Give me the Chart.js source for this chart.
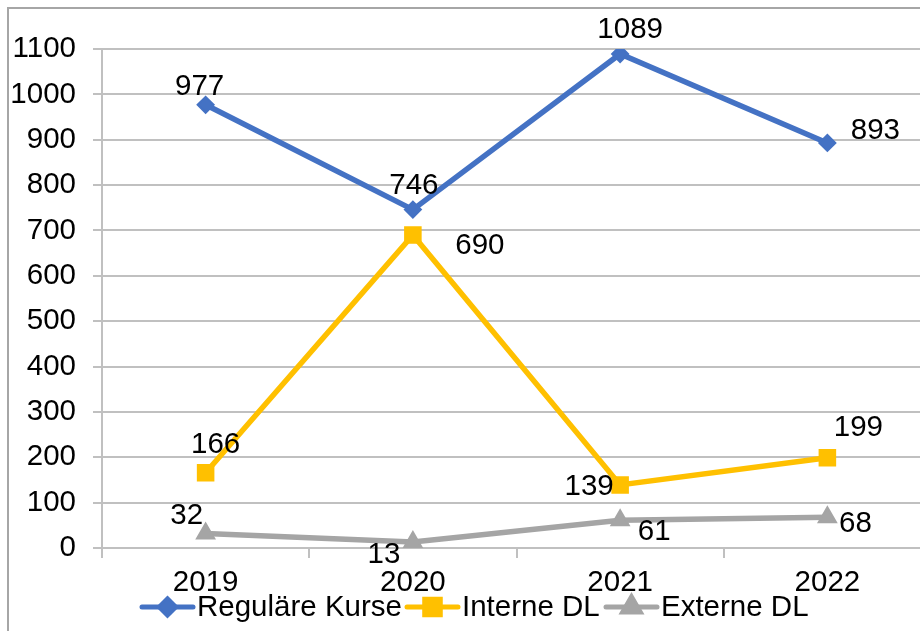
<!DOCTYPE html>
<html>
<head>
<meta charset="utf-8">
<script src="https://cdn.jsdelivr.net/npm/chart.js@4/dist/chart.umd.min.js"></script>
<style>
    html, body { margin: 0; padding: 0; background: #fff; overflow: hidden; width: 920px; height: 631px; }
    #frame { position: absolute; left: 7px; top: 7px; width: 1000px; height: 1000px;
             border-left: 2px solid #a6a6a6; border-top: 2px solid #a6a6a6; }
    #chart { position: absolute; left: 0; top: 0; }
</style>
</head>
<body>
<div id="frame"></div>
<canvas id="chart" width="944" height="631"></canvas>
<script>
// --- Data ---
const years = ['2019', '2020', '2021', '2022'];
const regulaereKurse = [977, 746, 1089, 893];
const interneDL = [166, 690, 139, 199];
const externeDL = [32, 13, 61, 68];
const seriesNames = ['Reguläre Kurse', 'Interne DL', 'Externe DL'];

// --- Styles ---
const FONT = "'Liberation Sans', Arial, sans-serif";
const FONT_SIZE = 29.5;
const GRID = '#c0c0c0';
const colors = ['#4472C4', '#FFC000', '#A5A5A5'];
const markers = [
    { pointStyle: 'rectRot', radius: 8 },
    { pointStyle: 'rect', radius: 11 },
    { pointStyle: 'triangle', radius: 10 }
];

// label offsets (dx, dy) from each point, per series
const labelOffsets = [
    [[-6, -18], [1, -24], [10, -24], [48, -12]],
    [[10, -28], [67, 11], [-31, 2], [31, -30]],
    [[-19, -18], [-29, 13], [34, 12], [28, 7]]
];

// legend item starts (x of line) and y
const legendX = [142, 407, 606];
const legendY = 607;

const dataLabelPlugin = {
    id: 'dataLabels',
    afterDatasetsDraw(chart) {
        const ctx = chart.ctx;
        ctx.save();
        ctx.font = FONT_SIZE + 'px ' + FONT;
        ctx.fillStyle = '#000';
        ctx.textAlign = 'center';
        ctx.textBaseline = 'middle';
        chart.data.datasets.forEach((ds, i) => {
            const meta = chart.getDatasetMeta(i);
            meta.data.forEach((pt, j) => {
                const off = labelOffsets[i][j];
                ctx.fillText(String(ds.data[j]), pt.x + off[0], pt.y + off[1]);
            });
        });
        ctx.restore();
    }
};

const legendPlugin = {
    id: 'lineLegend',
    afterDraw(chart) {
        const ctx = chart.ctx;
        ctx.save();
        chart.data.datasets.forEach((ds, i) => {
            const x0 = legendX[i];
            ctx.strokeStyle = colors[i];
            ctx.lineWidth = 5;
            ctx.lineCap = 'round';
            ctx.beginPath();
            ctx.moveTo(x0, legendY);
            ctx.lineTo(x0 + 51, legendY);
            ctx.stroke();
            Chart.helpers.drawPoint(ctx, {
                pointStyle: markers[i].pointStyle,
                radius: markers[i].radius,
                borderWidth: 2,
                rotation: 0
            }, x0 + 25.5, legendY);
            ctx.fillStyle = colors[i];
            ctx.fill();
            ctx.fillStyle = '#000';
            ctx.font = FONT_SIZE + 'px ' + FONT;
            ctx.textAlign = 'left';
            ctx.textBaseline = 'middle';
            ctx.fillText(ds.label, x0 + 55, legendY + 1);
        });
        ctx.restore();
    }
};

function makeDataset(label, data, i) {
    return {
        label: label,
        data: data,
        borderColor: colors[i],
        backgroundColor: colors[i],
        borderWidth: 5.5,
        pointStyle: markers[i].pointStyle,
        pointRadius: markers[i].radius,
        pointHoverRadius: markers[i].radius,
        pointBorderWidth: 2,
        pointBorderColor: colors[i],
        pointBackgroundColor: colors[i],
        tension: 0
    };
}

const ctx = document.getElementById('chart').getContext('2d');
new Chart(ctx, {
    type: 'line',
    data: {
        labels: years,
        datasets: [
            makeDataset(seriesNames[0], regulaereKurse, 0),
            makeDataset(seriesNames[1], interneDL, 1),
            makeDataset(seriesNames[2], externeDL, 2)
        ]
    },
    options: {
        responsive: false,
        animation: false,
        devicePixelRatio: 1,
        layout: { padding: { top: 49, right: 10, bottom: 0, left: 0 } },
        plugins: {
            legend: { display: false },
            tooltip: { enabled: false }
        },
        scales: {
            x: {
                offset: true,
                grid: {
                    offset: true,
                    drawOnChartArea: false,
                    drawTicks: true,
                    tickLength: 10,
                    color: GRID,
                    lineWidth: 2
                },
                border: { color: GRID, width: 2 },
                ticks: {
                    color: '#000',
                    font: { family: FONT, size: FONT_SIZE },
                    padding: 7,
                    maxRotation: 0
                },
                afterFit(scale) { scale.height = 83; }
            },
            y: {
                min: 0,
                max: 1100,
                ticks: {
                    stepSize: 100,
                    color: '#000',
                    font: { family: FONT, size: FONT_SIZE },
                    padding: 17,
                    callback: (v) => String(v)
                },
                grid: {
                    color: GRID,
                    lineWidth: 2,
                    drawTicks: true,
                    tickLength: 9
                },
                border: { color: GRID, width: 2 },
                afterFit(scale) { scale.width = 102; }
            }
        }
    },
    plugins: [dataLabelPlugin, legendPlugin]
});
</script>
</body>
</html>
